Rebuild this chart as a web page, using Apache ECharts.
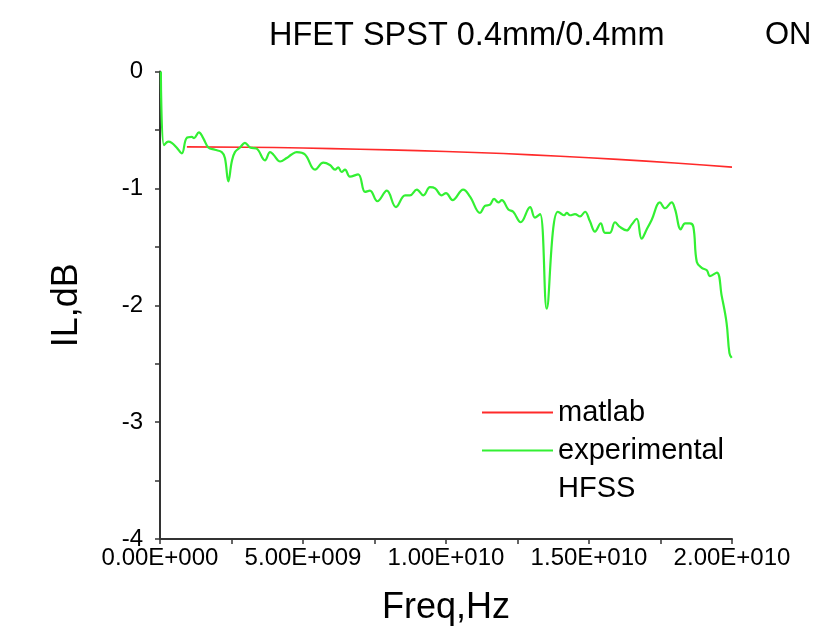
<!DOCTYPE html>
<html>
<head>
<meta charset="utf-8">
<script src="https://cdn.jsdelivr.net/npm/echarts@6/dist/echarts.min.js"></script>
<style>html,body{margin:0;padding:0;background:#fff}#c{width:835px;height:641px}</style>
</head>
<body>
<div id="c"></div>
<script>
// frequencies in GHz
const expFreq = [0.03,0.14,0.29,0.41,0.58,0.76,0.93,1.11,1.19,1.36,1.51,1.69,1.92,2.16,2.27,2.39,2.51,2.62,2.80,2.97,3.15,3.38,3.67,3.85,3.96,4.20,4.43,4.60,4.78,5.07,5.42,5.71,5.94,6.12,6.23,6.35,6.47,6.64,6.93,7.17,7.34,7.60,7.93,8.25,8.57,8.74,8.98,9.21,9.44,9.62,9.85,10.00,10.23,10.60,10.84,11.19,11.36,11.54,11.68,11.83,11.95,12.18,12.35,12.61,12.94,13.11,13.29,13.52,13.75,13.91,13.99,14.13,14.22,14.34,14.51,14.69,14.86,15.03,15.21,15.41,15.56,15.73,15.91,16.08,16.32,16.49,16.67,16.84,17.02,17.19,17.48,17.66,17.89,18.01,18.21,18.36,18.53,18.65,18.77,18.94,19.12,19.23,19.47,19.64,19.81,19.91,19.99];
const expIL = [0.0,-0.63,-0.60,-0.61,-0.65,-0.70,-0.57,-0.56,-0.57,-0.52,-0.57,-0.65,-0.67,-0.69,-0.74,-0.94,-0.77,-0.69,-0.65,-0.61,-0.65,-0.66,-0.76,-0.69,-0.71,-0.77,-0.74,-0.71,-0.69,-0.71,-0.84,-0.78,-0.80,-0.84,-0.82,-0.86,-0.84,-0.90,-0.88,-1.03,-1.02,-1.11,-1.02,-1.16,-1.06,-1.06,-1.01,-1.06,-0.99,-1.00,-1.06,-1.04,-1.10,-1.01,-1.07,-1.21,-1.15,-1.14,-1.09,-1.12,-1.10,-1.18,-1.20,-1.29,-1.16,-1.25,-1.22,-2.03,-1.34,-1.20,-1.21,-1.23,-1.21,-1.23,-1.22,-1.24,-1.20,-1.28,-1.37,-1.30,-1.38,-1.38,-1.29,-1.33,-1.36,-1.31,-1.26,-1.43,-1.35,-1.27,-1.12,-1.17,-1.12,-1.18,-1.35,-1.30,-1.30,-1.33,-1.63,-1.68,-1.70,-1.75,-1.72,-1.92,-2.15,-2.41,-2.45];
const matFreq = [0.94,3,5,7,9,11,13,15,17,19,20];
const matIL = [-0.645,-0.648,-0.655,-0.665,-0.677,-0.693,-0.713,-0.738,-0.767,-0.800,-0.818];
const xTickLabels = ['0.00E+000','5.00E+009','1.00E+010','1.50E+010','2.00E+010'];
const yTickLabels = ['-4','-3','-2','-1','0'];
const seriesNames = ['matlab','experimental','HFSS'];

const toPairs = (f, v) => f.map((x, i) => [x * 1e9, v[i]]);
const FONT = 'Liberation Sans, Arial, sans-serif';
const RED = '#ff2a2a', GREEN = '#33f033';
const chart = echarts.init(document.getElementById('c'), null, {renderer: 'canvas'});
chart.setOption({
  backgroundColor: '#ffffff',
  animation: false,
  title: [
    {text: 'HFET SPST 0.4mm/0.4mm', left: 264, top: 15, textStyle: {fontFamily: FONT, fontSize: 32.5, fontWeight: 'normal', color: '#000'}},
    {text: 'ON', left: 760, top: 15, textStyle: {fontFamily: FONT, fontSize: 31, fontWeight: 'normal', color: '#000'}}
  ],
  legend: {
    orient: 'vertical', left: 477, top: 393, itemWidth: 71, itemHeight: 2, itemGap: 9,
    textStyle: {fontFamily: FONT, fontSize: 29, color: '#000', lineHeight: 29},
    selectedMode: false,
    data: [
      {name: seriesNames[0], icon: 'rect', itemStyle: {color: RED}},
      {name: seriesNames[1], icon: 'rect', itemStyle: {color: GREEN}},
      {name: seriesNames[2], icon: 'rect', itemStyle: {opacity: 0}}
    ]
  },
  grid: {left: 160, right: 103, top: 71.5, bottom: 102, containLabel: false},
  xAxis: {
    type: 'value', min: 0, max: 2e10, interval: 5e9,
    name: 'Freq,Hz', nameLocation: 'middle', nameGap: 51,
    nameTextStyle: {fontFamily: FONT, fontSize: 36, color: '#000'},
    axisLine: {show: true, onZero: false, lineStyle: {color: '#333', width: 2}},
    axisTick: {show: true, inside: false, length: 5, lineStyle: {color: '#333', width: 1.5}},
    minorTick: {show: true, splitNumber: 2, length: 5, lineStyle: {color: '#333', width: 1.5}},
    splitLine: {show: false},
    axisLabel: {fontFamily: FONT, fontSize: 24, color: '#000', margin: 7,
      formatter: v => xTickLabels[Math.round(v / 5e9)]}
  },
  yAxis: {
    type: 'value', min: -4, max: 0, interval: 1,
    name: 'IL,dB', nameLocation: 'middle', nameGap: 75, nameRotate: 90,
    nameTextStyle: {fontFamily: FONT, fontSize: 36, color: '#000'},
    axisLine: {show: true, onZero: false, lineStyle: {color: '#333', width: 2}},
    axisTick: {show: true, inside: false, length: 5, lineStyle: {color: '#333', width: 1.5}},
    minorTick: {show: true, splitNumber: 2, length: 5, lineStyle: {color: '#333', width: 1.5}},
    splitLine: {show: false},
    axisLabel: {fontFamily: FONT, fontSize: 24, color: '#000', margin: 17,
      formatter: v => yTickLabels[Math.round(v + 4)]}
  },
  series: [
    {name: seriesNames[0], type: 'line', data: toPairs(matFreq, matIL), symbol: 'none', smooth: true,
      color: RED, lineStyle: {color: RED, width: 1.6}},
    {name: seriesNames[1], type: 'line', data: toPairs(expFreq, expIL), symbol: 'none', smooth: 0.4,
      color: GREEN, lineStyle: {color: GREEN, width: 2.2}},
    {name: seriesNames[2], type: 'line', data: [], symbol: 'none', color: '#0000ff'}
  ]
});
</script>
</body>
</html>
